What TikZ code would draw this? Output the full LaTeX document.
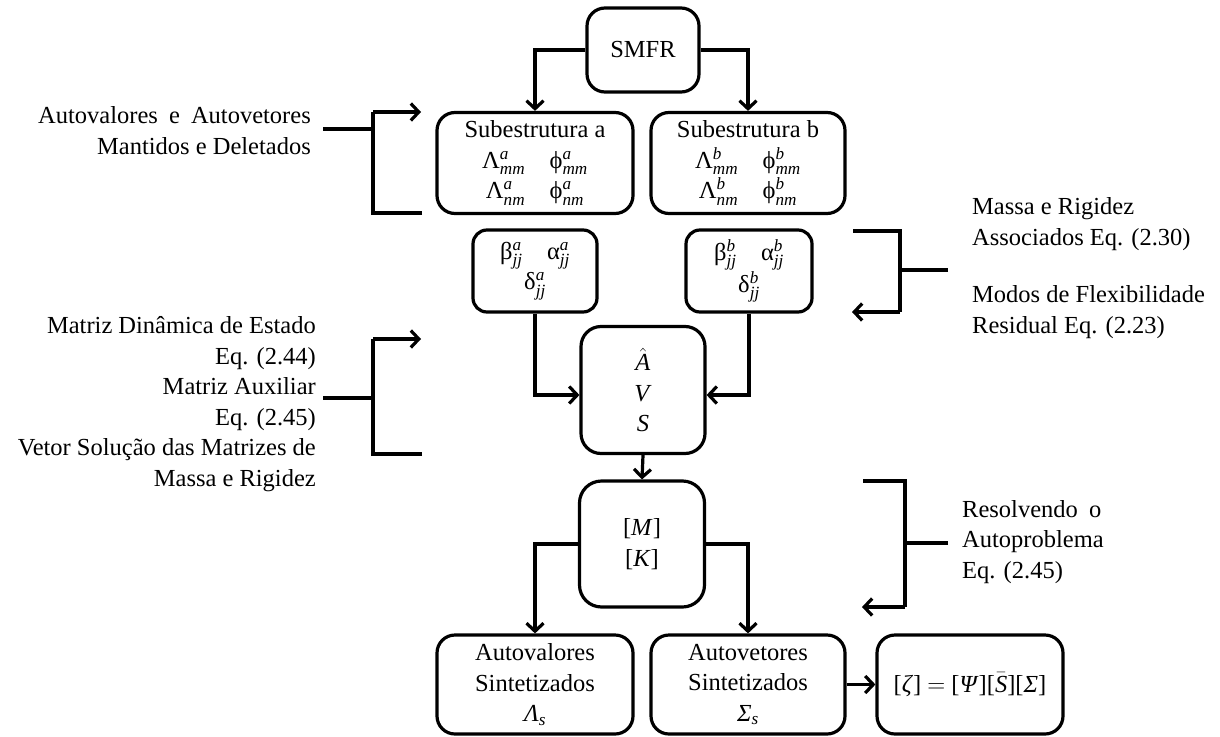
\documentclass[tikz,border=0pt]{standalone}
\usepackage{amsmath}
\usepackage{fontspec}
\setmainfont{Liberation Serif}
\usetikzlibrary{arrows.meta}

% italic scripts taken from the text font
\newcommand{\ssb}[2]{$^{\textit{#1}}_{\textit{#2}}$}

\tikzset{
  every node/.style={font=\fontsize{24.5}{30.5}\selectfont},
  box/.style={draw, line width=3.2pt, rounded corners=18pt, align=center, inner sep=0pt},
  wire/.style={line width=3.2pt},
  arr/.style={wire, -{Straight Barb[length=8pt,width=17pt,line width=3.2pt]}},
  lbl/.style={align=right, inner sep=0pt},
  lblL/.style={align=left, inner sep=0pt},
}

\begin{document}
\begin{tikzpicture}[x=1pt,y=-1pt]
\useasboundingbox (0,0) rectangle (1220,736);

% main flow boxes
\node[box, minimum width=112pt, minimum height=84pt] (smfr) at (643,50) {SMFR};
\node[box, minimum width=196pt, minimum height=101pt] (suba) at (535,163)
  {Subestrutura a\\Λ\ssb{a}{mm}\quad ϕ\ssb{a}{mm}\\Λ\ssb{a}{nm}\quad ϕ\ssb{a}{nm}};
\node[box, minimum width=194pt, minimum height=101pt] (subb) at (748,163)
  {Subestrutura b\\Λ\ssb{b}{mm}\quad ϕ\ssb{b}{mm}\\Λ\ssb{b}{nm}\quad ϕ\ssb{b}{nm}};
\node[box, rounded corners=14pt, minimum width=124pt, minimum height=82pt] (betaa) at (535,271)
  {β\ssb{a}{jj}\quad α\ssb{a}{jj}\\δ\ssb{a}{jj}};
\node[box, rounded corners=14pt, minimum width=126pt, minimum height=82pt] (betab) at (749,271)
  {β\ssb{b}{jj}\quad α\ssb{b}{jj}\\δ\ssb{b}{jj}};
\node[box, rounded corners=20pt, minimum width=124pt, minimum height=127pt] (avs) at (643,390)
  {$\hat{\text{\textit{A}}}$\\\textit{V}\\\textit{S}};
\node[box, rounded corners=22pt, minimum width=125pt, minimum height=126pt] (mk) at (642,544)
  {{[}\textit{M}{]}\\{[}\textit{K}{]}};
\node[box, minimum width=196pt, minimum height=99pt] (autoval) at (535,684.5)
  {Autovalores\\Sintetizados\\\textit{Λ}$_{\textit{s}}$};
\node[box, minimum width=194pt, minimum height=99pt] (autovet) at (748,684.5)
  {Autovetores\\Sintetizados\\\textit{Σ}$_{\textit{s}}$};
\node[box, minimum width=186pt, minimum height=99pt] (zeta) at (970,684.5)
  {{[}\textit{ζ}{]} $=$ {[}\textit{Ψ}{][}$\bar{\text{\textit{S}}}${][}\textit{Σ}{]}};

% connectors of the main flow
\draw[arr] (smfr.west) -| (suba.north);
\draw[arr] (smfr.east) -| (subb.north);
\draw[arr] (betaa.south) |- ([yshift=-5pt]avs.west);
\draw[arr] (betab.south) |- ([yshift=-5pt]avs.east);
\draw[arr] (avs.south) -- (mk.north);
\draw[arr] (mk.west) -| (autoval.north);
\draw[arr] (mk.east) -| (autovet.north);
\draw[arr] (autovet.east) -- (zeta.west);

% side notes
\node[lbl, anchor=east] (n1) at (311,130.5)
  {Autovalores\hspace{5pt} e\hspace{5pt} Autovetores\\Mantidos e Deletados};
\node[lbl, anchor=east] (n2) at (316,404)
  {Matriz Dinâmica de Estado\\Eq. (2.44)\\Matriz Auxiliar\\Eq. (2.45)\\Vetor Solução das Matrizes de\\Massa e Rigidez};
\node[lblL, anchor=west] (n3) at (972,224)
  {Massa e Rigidez\\Associados Eq. (2.30)};
\node[lblL, anchor=west] (n4) at (972,312)
  {Modos de Flexibilidade\\Residual Eq. (2.23)};
\node[lblL, anchor=west] (n5) at (962,542)
  {Resolvendo\hspace{5pt} o\\Autoproblema\\Eq. (2.45)};

% bracket ends
\coordinate (b1s) at (323,129);   \coordinate (b1m) at (373,129);
\coordinate (b1t) at (373,112);   \coordinate (b1te) at (421,112);
\coordinate (b1b) at (373,213);   \coordinate (b1be) at (422,213);
\coordinate (b2s) at (323,398);   \coordinate (b2m) at (373,398);
\coordinate (b2t) at (373,339);   \coordinate (b2te) at (421,339);
\coordinate (b2b) at (373,454);   \coordinate (b2be) at (422,454);
\coordinate (b3s) at (948,270);   \coordinate (b3m) at (900,270);
\coordinate (b3t) at (900,231);   \coordinate (b3te) at (853,231);
\coordinate (b3b) at (900,312);   \coordinate (b3be) at (852,312);
\coordinate (b4s) at (948,543);   \coordinate (b4m) at (905,543);
\coordinate (b4t) at (905,481);   \coordinate (b4te) at (863,481);
\coordinate (b4b) at (905,607);   \coordinate (b4be) at (862,607);

% brackets
\draw[wire] (b1s) -- (b1m);
\draw[wire] (b1be) -- (b1b) -- (b1t);
\draw[arr] (b1t) -- (b1te);
\draw[wire] (b2s) -- (b2m);
\draw[wire] (b2be) -- (b2b) -- (b2t);
\draw[arr] (b2t) -- (b2te);
\draw[wire] (b3s) -- (b3m);
\draw[wire] (b3te) -- (b3t) -- (b3b);
\draw[arr] (b3b) -- (b3be);
\draw[wire] (b4s) -- (b4m);
\draw[wire] (b4te) -- (b4t) -- (b4b);
\draw[arr] (b4b) -- (b4be);
\end{tikzpicture}
\end{document}
